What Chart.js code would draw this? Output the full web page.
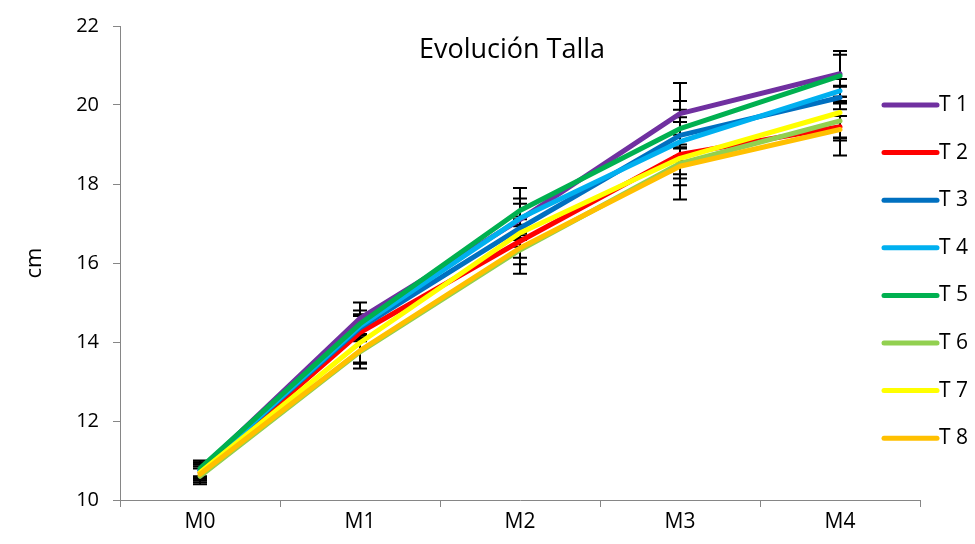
<!DOCTYPE html>
<html><head><meta charset="utf-8">
<script src="https://cdn.jsdelivr.net/npm/chart.js@4/dist/chart.umd.min.js"></script>
<style>html,body{margin:0;padding:0;background:#fff}#wrap{width:975px;height:544px;position:relative}</style>
</head><body><div id="wrap"><canvas id="c" width="975" height="544"></canvas></div>
<script>
const categories = ["M0","M1","M2","M3","M4"];
const seriesNames = ["T 1","T 2","T 3","T 4","T 5","T 6","T 7","T 8"];
const seriesColors = ["#7030A0","#FF0000","#0070C0","#00B0F0","#00B050","#92D050","#FFFF00","#FFC000"];
const T1 = [10.75, 14.60, 17.10, 19.78, 20.79];
const T2 = [10.70, 14.24, 16.55, 18.75, 19.45];
const T3 = [10.75, 14.36, 16.88, 19.23, 20.19];
const T4 = [10.75, 14.40, 17.13, 19.07, 20.36];
const T5 = [10.80, 14.46, 17.33, 19.40, 20.74];
const T6 = [10.60, 13.75, 16.33, 18.52, 19.60];
const T7 = [10.70, 13.98, 16.76, 18.65, 19.81];
const T8 = [10.65, 13.78, 16.38, 18.45, 19.38];
const E1 = [0.20, 0.40, 0.40, 0.78, 0.58];
const E2 = [0.20, 0.22, 0.42, 0.50, 0.27];
const E3 = [0.20, 0.30, 0.30, 0.65, 0.30];
const E4 = [0.20, 0.30, 0.50, 0.50, 0.30];
const E5 = [0.20, 0.34, 0.57, 0.70, 0.53];
const E6 = [0.20, 0.42, 0.60, 0.38, 0.50];
const E7 = [0.20, 0.50, 0.35, 1.04, 0.65];
const E8 = [0.20, 0.33, 0.41, 0.48, 0.66];
const yTicks = [10,12,14,16,18,20,22];
const chartTitle = "Evolución Talla";
const yTitle = "cm";

const values = [T1,T2,T3,T4,T5,T6,T7,T8];
const errors = [E1,E2,E3,E4,E5,E6,E7,E8];
const FONT = "'Open Sans'";

const datasets = seriesNames.map((n,i)=>({
  label:n, data:values[i], errors:errors[i],
  borderColor:seriesColors[i], backgroundColor:seriesColors[i],
  borderWidth:5, pointRadius:0, tension:0, fill:false,
  borderCapStyle:'round', borderJoinStyle:'round',
  order: seriesNames.length - i
}));

const errorBars = {
  id:'errorBars',
  beforeDatasetsDraw(chart){
    const ctx=chart.ctx, x=chart.scales.x, y=chart.scales.y;
    ctx.save(); ctx.strokeStyle='#000'; ctx.lineWidth=2;
    chart.data.datasets.forEach(ds=>{
      ds.data.forEach((v,j)=>{
        const e=ds.errors[j], px=x.getPixelForValue(j);
        const hi=y.getPixelForValue(v+e), lo=y.getPixelForValue(v-e);
        ctx.beginPath();
        ctx.moveTo(px,hi); ctx.lineTo(px,lo);
        ctx.moveTo(px-7,hi); ctx.lineTo(px+7,hi);
        ctx.moveTo(px-7,lo); ctx.lineTo(px+7,lo);
        ctx.stroke();
      });
    });
    ctx.restore();
  }
};

const overlay = {
  id:'overlay',
  afterDraw(chart){
    const ctx=chart.ctx;
    ctx.save();
    ctx.fillStyle='#000'; ctx.font='27px '+FONT;
    ctx.textAlign='center'; ctx.textBaseline='middle';
    ctx.fillText(chartTitle, 512, 50);
    ctx.font='21px '+FONT; ctx.textAlign='left';
    chart.data.datasets.forEach((ds,i)=>{
      const yy=105+i*47.6;
      ctx.strokeStyle=ds.borderColor; ctx.lineWidth=5; ctx.lineCap='round';
      ctx.beginPath(); ctx.moveTo(884,yy); ctx.lineTo(937,yy); ctx.stroke();
      ctx.fillStyle='#000'; ctx.fillText(ds.label, 939, yy);
    });
    ctx.restore();
  }
};

new Chart(document.getElementById('c'),{
  type:'line',
  data:{labels:categories, datasets},
  options:{
    responsive:false, animation:false,
    layout:{padding:{top:13,right:55,left:0,bottom:0}},
    plugins:{legend:{display:false}, title:{display:false}, tooltip:{enabled:false}},
    scales:{
      x:{
        offset:true,
        grid:{offset:true, drawOnChartArea:false, color:'#868686', tickLength:7, lineWidth:1},
        border:{color:'#868686', width:1},
        ticks:{color:'#000', font:{family:"Open Sans",size:21}, padding:2},
        afterFit(s){ s.height=44; }
      },
      y:{
        min:10, max:22,
        afterBuildTicks(s){ s.ticks = yTicks.map(v=>({value:v})); },
        grid:{drawOnChartArea:false, color:'#868686', tickLength:7, lineWidth:1},
        border:{color:'#868686', width:1},
        ticks:{color:'#000', font:{family:"Open Sans",size:20}, padding:14},
        title:{display:true, text:yTitle, color:'#000', font:{family:"Open Sans",size:22}, padding:{top:22,bottom:0}},
        afterFit(s){ s.width=120; }
      }
    }
  },
  plugins:[errorBars, overlay]
});
</script></body></html>
